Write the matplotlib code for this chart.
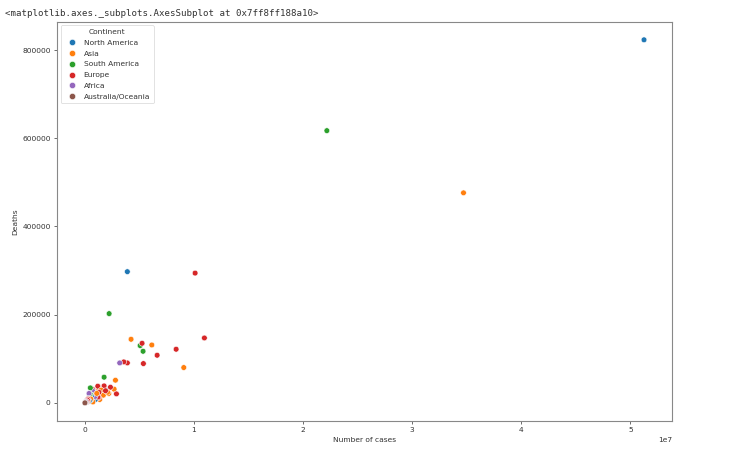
"""Scatter of COVID-19 cases vs deaths by country, coloured by continent."""
import matplotlib
matplotlib.use("Agg")
import matplotlib.pyplot as plt
import pandas as pd
import seaborn as sns

# one entry per country, roughly sorted by number of cases
CONTINENTS = [
    "North America", "Asia", "South America", "Europe", "Europe", "Asia", "Europe", "Asia",
    "Europe", "Asia", "South America", "Europe", "South America", "Europe", "Asia", "North America",
    "Europe", "Europe", "Africa", "Asia", "Asia", "Europe", "Europe", "Asia",
    "South America", "Asia", "North America", "Europe", "South America", "Europe", "Asia", "Asia",
    "Asia", "Asia", "Asia", "Europe", "Europe", "Europe", "Europe", "Europe",
    "Europe", "Asia", "Asia", "North America", "Africa", "Europe", "Asia", "Asia",
    "Europe", "Europe", "Africa", "Asia", "Europe", "Europe", "Asia", "Asia",
    "North America", "South America", "South America", "Asia", "Asia", "North America", "South America", "Africa",
    "South America", "North America", "South America", "Europe", "Africa", "North America", "Africa", "Asia",
    "Australia/Oceania", "Africa", "Africa", "Africa", "Africa", "North America", "Europe", "Asia",
    "Europe", "Africa", "Europe", "Australia/Oceania", "Africa", "Australia/Oceania", "Australia/Oceania",
]
CASES = [
    51240000, 34700000, 22180000, 10960000, 10110000, 9070000, 8370000, 6140000,
    6630000, 4240000, 5340000, 5370000, 5070000, 5250000, 2810000, 3900000,
    3900000, 3570000, 3200000, 2690000, 2200000, 2900000, 2350000, 1550000,
    1770000, 1280000, 1890000, 1770000, 2230000, 1190000, 1700000, 2090000,
    1370000, 1500000, 1000000, 1900000, 1150000, 1000000, 1200000, 1270000,
    730000, 900000, 820000, 970000, 730000, 780000, 1020000, 580000,
    1200000, 1300000, 950000, 530000, 560000, 470000, 550000, 740000,
    620000, 510000, 520000, 390000, 1100000, 570000, 460000, 390000,
    400000, 380000, 440000, 380000, 370000, 480000, 260000, 550000,
    230000, 210000, 220000, 200000, 210000, 410000, 290000, 300000,
    240000, 130000, 160000, 53000, 90000, 35000, 13000,
]
DEATHS = [
    823300, 476300, 617300, 147200, 294300, 80100, 121600, 131300,
    108000, 144200, 117000, 89100, 129900, 135100, 51400, 297500,
    90600, 92900, 90600, 31000, 21300, 20400, 35500, 29400,
    58200, 28700, 29400, 38500, 202400, 37800, 17400, 24100,
    7700, 29000, 12000, 27500, 18700, 19600, 15000, 12200,
    30500, 13000, 11500, 7700, 26500, 16200, 17000, 14800,
    13300, 24000, 14800, 19000, 8800, 9500, 4500, 2100,
    16000, 34000, 19000, 9500, 21500, 7300, 16500, 21300,
    6100, 10400, 5300, 9000, 6800, 7400, 5300, 8800,
    2100, 6100, 3000, 4900, 3600, 4200, 8300, 4500,
    6100, 3400, 2400, 700, 1700, 570, 50,
]

HUE_ORDER = ["North America", "Asia", "South America", "Europe", "Africa", "Australia/Oceania"]

plt.rcParams["font.family"] = ["DejaVu Sans"]
plt.rcParams["font.size"] = 5.4

frame = pd.DataFrame({"Number of cases": CASES, "Deaths": DEATHS, "Continent": CONTINENTS})

fig = plt.figure(figsize=(7.36, 4.51), dpi=100)
ax = fig.add_axes([0.0774, 0.0665, 0.8356, 0.8855])
sns.scatterplot(data=frame, x="Number of cases", y="Deaths", hue="Continent",
                hue_order=HUE_ORDER, s=17, linewidth=0.4, edgecolor="white", ax=ax)

ax.tick_params(labelsize=5.4, length=2.5, width=0.6, color="#555555",
               labelcolor="#333333", pad=2)
ax.xaxis.get_offset_text().set_fontsize(5.4)
ax.xaxis.get_offset_text().set_color("#333333")
for spine in ax.spines.values():
    spine.set_color("#888888")
    spine.set_linewidth(0.8)
ax.set_xlabel("Number of cases", fontsize=5.4, labelpad=3, color="#333333")
ax.set_ylabel("Deaths", fontsize=5.4, labelpad=3, color="#333333")

legend = ax.legend(title="Continent", loc="upper left", fontsize=5.4, title_fontsize=5.4,
                   markerscale=1.1, borderpad=0.5, labelspacing=0.6, handletextpad=0.55)
legend.get_frame().set_linewidth(0.5)
for text in legend.get_texts():
    text.set_color("#333333")
legend.get_title().set_color("#333333")

fig.text(0.007, 0.98, "<matplotlib.axes._subplots.AxesSubplot at 0x7ff8ff188a10>",
         family="DejaVu Sans Mono", fontsize=6.6, color="#333333", va="top", ha="left")

fig.savefig("out.png", dpi=100)
